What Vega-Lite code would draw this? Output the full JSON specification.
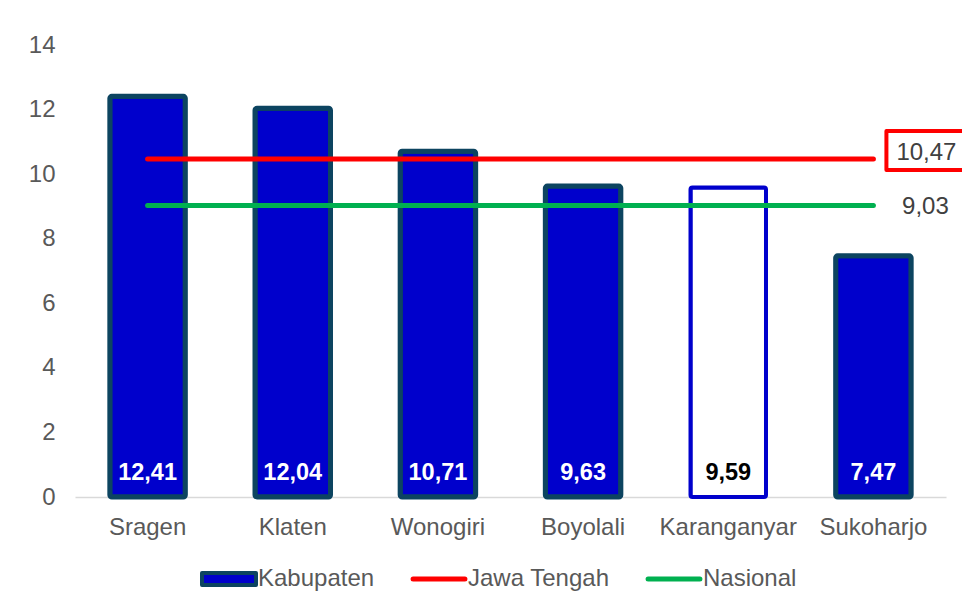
{
  "$schema": "https://vega.github.io/schema/vega-lite/v6.json",
  "width": 871,
  "height": 452,
  "autosize": {"type": "none"},
  "padding": {"left": 75, "top": 45, "right": 16, "bottom": 111},
  "config": {
    "locale": {"number": {"decimal": ",", "thousands": ".", "grouping": [3], "currency": ["", ""]}},
    "view": {"stroke": null},
    "font": "Liberation Sans",
    "axisX": {"domainColor": "#D9D9D9", "domainWidth": 1.5, "ticks": false, "labelFontSize": 24, "labelColor": "#595959", "labelPadding": 18, "labelAngle": 0, "grid": false, "labelFont": "Liberation Sans"},
    "axisY": {"domain": false, "ticks": false, "tickSize": 0, "grid": false, "labelFontSize": 24, "labelColor": "#595959", "labelPadding": 20, "labelFont": "Liberation Sans"}
  },
  "datasets": {
    "bars": [
      {"Kabupaten": "Sragen", "nilai": 12.41},
      {"Kabupaten": "Klaten", "nilai": 12.04},
      {"Kabupaten": "Wonogiri", "nilai": 10.71},
      {"Kabupaten": "Boyolali", "nilai": 9.63},
      {"Kabupaten": "Karanganyar", "nilai": 9.59},
      {"Kabupaten": "Sukoharjo", "nilai": 7.47}
    ],
    "ref": [
      {"Kabupaten": "Sragen", "series": "Jawa Tengah", "nilai": 10.47},
      {"Kabupaten": "Klaten", "series": "Jawa Tengah", "nilai": 10.47},
      {"Kabupaten": "Wonogiri", "series": "Jawa Tengah", "nilai": 10.47},
      {"Kabupaten": "Boyolali", "series": "Jawa Tengah", "nilai": 10.47},
      {"Kabupaten": "Karanganyar", "series": "Jawa Tengah", "nilai": 10.47},
      {"Kabupaten": "Sukoharjo", "series": "Jawa Tengah", "nilai": 10.47},
      {"Kabupaten": "Sragen", "series": "Nasional", "nilai": 9.03},
      {"Kabupaten": "Klaten", "series": "Nasional", "nilai": 9.03},
      {"Kabupaten": "Wonogiri", "series": "Nasional", "nilai": 9.03},
      {"Kabupaten": "Boyolali", "series": "Nasional", "nilai": 9.03},
      {"Kabupaten": "Karanganyar", "series": "Nasional", "nilai": 9.03},
      {"Kabupaten": "Sukoharjo", "series": "Nasional", "nilai": 9.03}
    ]
  },
  "encoding": {
    "x": {"field": "Kabupaten", "type": "nominal", "sort": null, "scale": {"paddingInner": 0.48, "paddingOuter": 0.24}, "axis": {"title": null}},
    "y": {"field": "nilai", "type": "quantitative", "scale": {"domain": [0, 14], "nice": false}, "axis": {"title": null, "values": [0, 2, 4, 6, 8, 10, 12, 14], "format": ".0f"}}
  },
  "layer": [
    {
      "data": {"name": "bars"},
      "mark": {"type": "bar", "cornerRadius": 2, "strokeJoin": "round"},
      "encoding": {
        "fill": {"condition": {"test": "datum.Kabupaten === 'Karanganyar'", "value": "#FFFFFF"}, "value": "#0000CC"},
        "stroke": {"condition": {"test": "datum.Kabupaten === 'Karanganyar'", "value": "#0000CC"}, "value": "#0C4460"},
        "strokeWidth": {"condition": {"test": "datum.Kabupaten === 'Karanganyar'", "value": 4}, "value": 5}
      }
    },
    {
      "data": {"name": "bars"},
      "mark": {"type": "text", "fontSize": 23.5, "fontWeight": "bold", "baseline": "middle", "dy": -24, "font": "Liberation Sans"},
      "encoding": {
        "y": {"datum": 0},
        "text": {"field": "nilai", "type": "quantitative", "format": ".2f"},
        "color": {"condition": {"test": "datum.Kabupaten === 'Karanganyar'", "value": "#000000"}, "value": "#FFFFFF"}
      }
    },
    {
      "data": {"name": "ref"},
      "mark": {"type": "line", "strokeWidth": 5, "strokeCap": "round"},
      "encoding": {
        "color": {
          "field": "series", "type": "nominal",
          "scale": {"domain": ["Kabupaten", "Jawa Tengah", "Nasional"], "range": ["#0C4460", "#FF0000", "#00B050"]},
          "legend": {
            "title": null, "orient": "none", "legendX": 142, "legendY": 522, "direction": "horizontal",
            "symbolSize": 2916, "labelFontSize": 24, "labelColor": "#595959", "labelFont": "Liberation Sans",
            "labelOffset": 17, "columnPadding": 35, "padding": 0, "labelLimit": 300,
            "encode": {
              "symbols": {
                "update": {
                  "shape": {"signal": "datum.value === 'Kabupaten' ? 'M-1,-0.22H1V0.22H-1Z' : 'M-0.96,0H0.96'"},
                  "fill": {"signal": "datum.value === 'Kabupaten' ? '#0000CC' : 'transparent'"},
                  "stroke": {"signal": "datum.value === 'Kabupaten' ? '#0C4460' : (datum.value === 'Jawa Tengah' ? '#FF0000' : '#00B050')"},
                  "strokeWidth": {"signal": "datum.value === 'Kabupaten' ? 4 : 5"},
                  "strokeCap": {"value": "round"},
                  "strokeJoin": {"value": "round"},
                  "opacity": {"value": 1}
                }
              }
            }
          }
        }
      }
    },
    {
      "data": {"name": "ref"},
      "transform": [{"filter": "datum.Kabupaten === 'Sukoharjo' && datum.series === 'Jawa Tengah'"}],
      "mark": {"type": "text", "fontSize": 24, "color": "#404040", "align": "center", "baseline": "middle", "dx": 53, "dy": -6, "font": "Liberation Sans"},
      "encoding": {"text": {"field": "nilai", "type": "quantitative", "format": ".2f"}}
    },
    {
      "data": {"name": "ref"},
      "transform": [{"filter": "datum.Kabupaten === 'Sukoharjo' && datum.series === 'Nasional'"}],
      "mark": {"type": "text", "fontSize": 24, "color": "#404040", "align": "center", "baseline": "middle", "dx": 52, "dy": 2, "font": "Liberation Sans"},
      "encoding": {"text": {"field": "nilai", "type": "quantitative", "format": ".2f"}}
    },
    {
      "data": {"name": "ref"},
      "transform": [{"filter": "datum.Kabupaten === 'Sukoharjo' && datum.series === 'Jawa Tengah'"}],
      "mark": {"type": "point", "shape": "M0.13,-0.28H1V0.11H0.13Z", "size": 40000, "filled": false, "stroke": "#FF0000", "strokeWidth": 4, "opacity": 1, "strokeJoin": "round"}
    }
  ]
}
